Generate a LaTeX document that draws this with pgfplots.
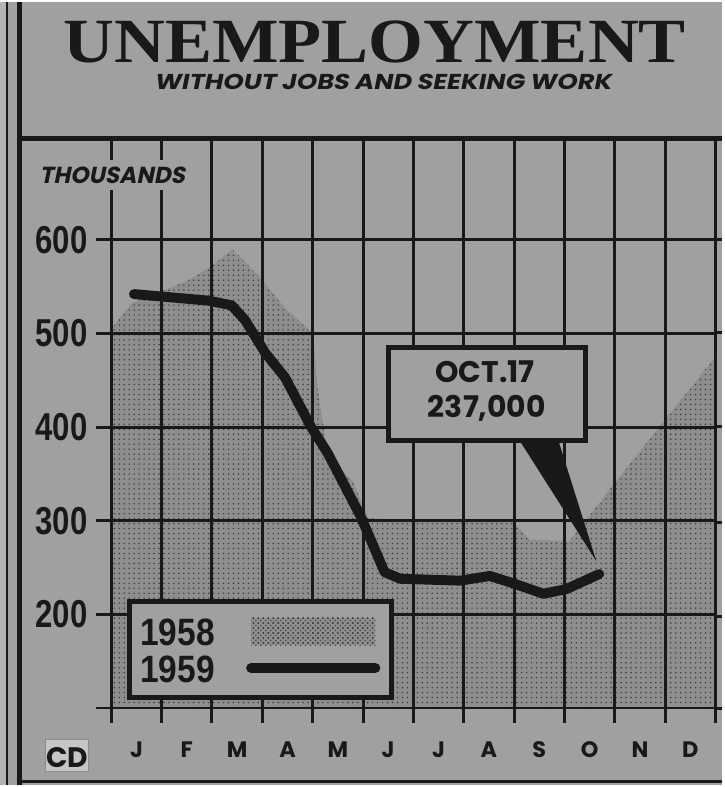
\documentclass[border=0pt]{standalone}
\usepackage{pgfplots}
\pgfplotsset{compat=1.18}
\usepackage{fontspec}
\usetikzlibrary{patterns}
\setmainfont{Liberation Sans}
\newfontfamily\numfont{Liberation Sans}[FakeStretch=0.8]
\newfontfamily\legfont{Liberation Sans}[FakeStretch=0.88]
\newfontfamily\titlefont{Liberation Serif}[FakeStretch=1.12]
\newfontfamily\geo{Poppins}
\newfontfamily\geoi{Poppins}[FakeSlant=0.2]
\newfontfamily\geoiw{Poppins}[FakeSlant=0.2, FakeStretch=1.19]
\definecolor{bg}{RGB}{160,160,160}
\definecolor{stip}{RGB}{142,142,142}
\definecolor{ink}{RGB}{25,25,25}
\begin{document}
\begin{tikzpicture}
\begin{scope}[x=0.6pt,y=-0.6pt]
\fill[bg] (0,0) rectangle (727,787);
\fill[bg!80!white] (0,0) rectangle (7,787);
\useasboundingbox (0,0) rectangle (727,787);
\end{scope}
\begin{axis}[
  axis on top,
  at={(67.2pt,-426pt)}, anchor=south west,
  scale only axis, width=364.8pt, height=343.8pt,
  xmin=0, xmax=12, ymin=100, ymax=708,
  axis line style={ink, line width=1.8pt},
  grid=major, grid style={ink, line width=1.8pt},
  tick style={ink, line width=1.8pt},
  tick pos=left,
  tick align=outside, major tick length=9pt,
  xtick={0,1,...,12}, xticklabels={},
  extra x ticks={0.5,1.5,...,11.5},
  extra x tick labels={J,F,M,A,M,J,J,A,S,O,N,D},
  extra x tick style={grid=none, tick style={draw=none}},
  xticklabel style={font=\geo\bfseries\fontsize{13.5}{13.5}\selectfont, text=ink, anchor=base, inner sep=0pt, yshift=-21pt},
  ytick={100,200,...,600}, yticklabels={,200,300,400,500,600},
  yticklabel style={font=\numfont\bfseries\fontsize{23.5}{23.5}\selectfont, text=ink, anchor=east, inner sep=0pt, xshift=-5.2pt},
  legend plot pos=right,
  legend cell align=left,
  legend style={at={(0.0255,0.191)}, anchor=north west, draw=ink, line width=3pt, fill=bg,
    font=\legfont\bfseries\fontsize{23}{23}\selectfont, text=ink,
    inner xsep=6.6pt, inner ysep=9.5pt, row sep=5pt,
    nodes={inner sep=0pt, text height=17pt, text depth=0pt},
    /tikz/every odd column/.style={column sep=19pt}},
]
\addplot[draw=none, fill=stip, postaction={pattern=dots, pattern color=ink!85},
  legend image code/.code={\fill[stip] (0pt,-8.4pt) rectangle (75pt,8.4pt);
    \fill[pattern=crosshatch dots, pattern color=ink!80] (0pt,-8.4pt) rectangle (75pt,8.4pt);}]
  coordinates {(0,505) (0.4,532) (1.0,545) (1.5,556) (2.0,572) (2.4,590) (2.95,560) (3.45,527) (4.0,500) (4.1,440) (4.3,370) (4.8,342) (5.1,303) (5.6,300) (7.0,300) (8.0,298) (8.3,280) (9.1,278) (10,340) (11,408) (12,475)} \closedcycle;
\addlegendentry{1958}
\addplot[ink, line width=6pt, line join=round, line cap=round,
  legend image code/.code={\draw[ink, line width=6pt] (0pt,0pt) -- (75pt,0pt);}]
  coordinates {(0.45,542) (1.93,535) (2.39,530) (2.66,514) (3.06,479) (3.45,453) (3.97,400) (4.30,372) (4.95,305) (5.43,245) (5.74,238) (6.93,236) (7.52,241) (7.99,233) (8.58,222) (9.04,227) (9.69,243)};
\addlegendentry{1959}
\end{axis}
\begin{scope}[x=0.6pt,y=-0.6pt]
% frame lines
\draw[ink, line width=1.2pt] (7,0) -- (7,787);
\draw[ink, line width=3pt] (20,0) -- (20,787);
\draw[ink, line width=3pt] (20,137) -- (727,137);
\draw[ink, line width=2pt] (20,784) -- (727,784);
\draw[ink, line width=1.8pt] (720,239) -- (727,239) (720,332) -- (727,332) (720,427) -- (727,427) (720,523) -- (727,523) (720,618) -- (727,618) (720,710) -- (727,710);
% titles
\node[anchor=base, inner sep=0pt, text=ink] at (377,60) {\titlefont\bfseries\fontsize{38}{38}\selectfont UNEMPLOYMENT};
\node[anchor=base, inner sep=0pt, text=ink] at (385,88) {\geoiw\bfseries\fontsize{13}{13}\selectfont WITHOUT JOBS AND SEEKING WORK};
\node[anchor=base west, inner sep=4pt, fill=bg, text=ink] at (33,182) {\geoi\bfseries\fontsize{14}{14}\selectfont THOUSANDS};
% callout
\fill[ink] (523,441) -- (600,562) -- (562,441) -- cycle;
\draw[ink, line width=3pt, fill=bg] (390.5,347.5) rectangle (589.5,440.5);
\node[anchor=base, inner sep=0pt, text=ink] at (488,382) {\geo\bfseries\fontsize{18}{18}\selectfont OCT.17};
\node[anchor=base, inner sep=0pt, text=ink] at (490,418) {\geo\bfseries\fontsize{18}{18}\selectfont 237,000};
% logo
\draw[ink!50, line width=0.5pt, fill=bg!60!white] (46,742) rectangle (89,774);
\node[anchor=base, inner sep=0pt, text=ink] at (67.5,770) {\geo\bfseries\fontsize{17}{17}\selectfont CD};
\end{scope}
\end{tikzpicture}
\end{document}
